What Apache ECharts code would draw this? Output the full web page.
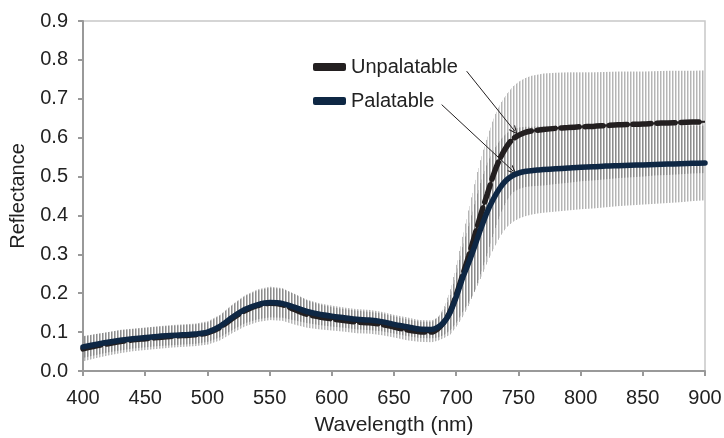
<!DOCTYPE html>
<html>
<head>
<meta charset="utf-8">
<script src="https://cdn.jsdelivr.net/npm/echarts@6/dist/echarts.min.js"></script>
<style>
html,body{margin:0;padding:0;background:#fff;}
#chart{width:724px;height:438px;}
</style>
</head>
<body>
<div id="chart"></div>
<script>
const wavelengths = [400,410,420,430,440,450,460,470,480,490,
  500,510,520,530,540,550,560,570,580,590,
  600,610,620,630,640,650,660,670,680,685,
  690,695,700,705,710,715,720,725,730,735,
  740,745,750,755,760,765,770,780,790,800,
  810,820,830,840,850,860,870,880,890,900];

const palatable = [0.062,0.068,0.074,0.079,0.083,0.086,0.089,0.091,0.093,0.095,
  0.100,0.115,0.138,0.158,0.170,0.176,0.174,0.164,0.153,0.146,
  0.141,0.137,0.133,0.131,0.127,0.120,0.114,0.108,0.107,0.112,
  0.125,0.150,0.190,0.238,0.278,0.322,0.368,0.410,0.443,0.470,
  0.490,0.502,0.509,0.513,0.515,0.517,0.518,0.520,0.522,0.524,
  0.525,0.527,0.528,0.529,0.530,0.531,0.532,0.533,0.534,0.535];

const unpalatable = [0.057,0.064,0.070,0.076,0.080,0.083,0.086,0.089,0.091,0.093,
  0.098,0.112,0.135,0.155,0.168,0.174,0.171,0.158,0.146,0.139,
  0.134,0.130,0.126,0.124,0.120,0.113,0.106,0.101,0.100,0.108,
  0.125,0.152,0.195,0.245,0.295,0.350,0.405,0.455,0.505,0.545,
  0.574,0.595,0.606,0.613,0.617,0.619,0.621,0.624,0.626,0.628,
  0.629,0.631,0.633,0.634,0.635,0.637,0.638,0.639,0.640,0.641];

const errPalatable = [0.028,0.027,0.026,0.026,0.025,0.025,0.025,0.025,0.025,0.025,
  0.025,0.028,0.032,0.035,0.037,0.038,0.037,0.034,0.030,0.028,
  0.027,0.026,0.026,0.026,0.025,0.024,0.024,0.023,0.023,0.026,
  0.032,0.045,0.065,0.085,0.100,0.115,0.125,0.128,0.127,0.124,
  0.121,0.119,0.117,0.115,0.113,0.112,0.111,0.110,0.109,0.108,
  0.107,0.106,0.104,0.103,0.102,0.101,0.100,0.099,0.097,0.096];

const errUnpalatable = [0.032,0.031,0.030,0.030,0.029,0.029,0.029,0.029,0.029,0.029,
  0.030,0.033,0.037,0.040,0.042,0.043,0.042,0.039,0.035,0.032,
  0.030,0.029,0.029,0.028,0.028,0.027,0.027,0.026,0.026,0.030,
  0.040,0.058,0.080,0.105,0.125,0.140,0.148,0.150,0.148,0.142,
  0.137,0.136,0.138,0.140,0.142,0.143,0.144,0.143,0.142,0.140,
  0.139,0.138,0.137,0.136,0.135,0.134,0.134,0.133,0.132,0.132];

const seriesNames = ['Unpalatable', 'Palatable'];
const xAxisName = 'Wavelength (nm)';
const yAxisName = 'Reflectance';

// arrow annotations (data space): [start, end]
const arrowUnpalatable = [[708.4, 0.771], [747, 0.617]];
const arrowPalatable = [[688.3, 0.685], [745.8, 0.514]];

const FONT = '"Liberation Sans", Arial, sans-serif';
const C_UNPAL = '#231f20';
const C_PAL = '#0e2744';

function pairs(vals) { return wavelengths.map((w, i) => [w, vals[i]]); }
function bandData(vals, errs) {
  return wavelengths.map((w, i) => [w, +(vals[i] - errs[i]).toFixed(4), +(vals[i] + errs[i]).toFixed(4)]);
}

// error bars drawn as dense vertical strokes between the band edges
function makeBandRenderer(data) {
  return function (params, api) {
    const i = params.dataIndex;
    if (i >= data.length - 1) return null;
    const a0 = api.coord([data[i][0], data[i][1]]);
    const b0 = api.coord([data[i][0], data[i][2]]);
    const a1 = api.coord([data[i + 1][0], data[i + 1][1]]);
    const b1 = api.coord([data[i + 1][0], data[i + 1][2]]);
    const x0 = a0[0], x1 = a1[0];
    const last = (i === data.length - 2);
    const children = [];
    for (let x = Math.ceil(x0); last ? x <= Math.floor(x1) : x < x1; x++) {
      const m = ((x % 3) + 3) % 3;
      if (m === 2) continue;
      const t = (x - x0) / (x1 - x0);
      const ylo = a0[1] + (a1[1] - a0[1]) * t;
      const yhi = b0[1] + (b1[1] - b0[1]) * t;
      children.push({
        type: 'line',
        shape: {x1: x + 0.5, y1: ylo, x2: x + 0.5, y2: yhi},
        style: {stroke: m === 0 ? 'rgba(90,90,90,0.45)' : 'rgba(90,90,90,0.22)', lineWidth: 1}
      });
    }
    return {type: 'group', children: children};
  };
}

const bandU = bandData(unpalatable, errUnpalatable);
const bandP = bandData(palatable, errPalatable);

const chart = echarts.init(document.getElementById('chart'), null, {renderer: 'canvas'});

const option = {
  animation: false,
  backgroundColor: '#fff',
  grid: {left: 83, right: 19, top: 21, bottom: 67, show: true, borderColor: '#c8c8c8', borderWidth: 1.5,
         containLabel: false, outerBoundsMode: 'none'},
  legend: {
    orient: 'vertical', left: 308, top: 51, itemWidth: 33, itemHeight: 8, itemGap: 12,
    textStyle: {fontFamily: FONT, fontSize: 20, color: '#222', lineHeight: 22},
    data: [
      {name: seriesNames[0], icon: 'roundRect', itemStyle: {color: C_UNPAL}},
      {name: seriesNames[1], icon: 'roundRect', itemStyle: {color: C_PAL}}
    ],
    selectedMode: false
  },
  xAxis: {
    type: 'value', min: 400, max: 900, interval: 50,
    name: xAxisName, nameLocation: 'middle', nameGap: 44,
    nameTextStyle: {fontFamily: FONT, fontSize: 21, color: '#222'},
    axisLine: {show: true, lineStyle: {color: '#999', width: 2}},
    axisTick: {show: true, length: 5, lineStyle: {color: '#999', width: 2}},
    axisLabel: {fontFamily: FONT, fontSize: 20, color: '#222', margin: 17},
    splitLine: {show: false}
  },
  yAxis: {
    type: 'value', min: 0, max: 0.9, interval: 0.1,
    name: yAxisName, nameLocation: 'middle', nameGap: 55,
    nameTextStyle: {fontFamily: FONT, fontSize: 20, color: '#222'},
    axisLine: {show: true, lineStyle: {color: '#999', width: 2}},
    axisTick: {show: true, length: 5, lineStyle: {color: '#999', width: 2}},
    axisLabel: {fontFamily: FONT, fontSize: 20, color: '#222', margin: 15,
      formatter: v => v.toFixed(1)},
    splitLine: {show: false}
  },
  series: [
    {name: 'UnpalatableError', type: 'custom', data: bandU, encode: {x: 0, y: [1, 2]},
     renderItem: makeBandRenderer(bandU), silent: true, z: 1, clip: true},
    {name: 'PalatableError', type: 'custom', data: bandP, encode: {x: 0, y: [1, 2]},
     renderItem: makeBandRenderer(bandP), silent: true, z: 1, clip: true},
    {name: 'UnpalatableBase', type: 'line', data: pairs(unpalatable), smooth: 0.3, symbol: 'none',
     lineStyle: {color: C_UNPAL, width: 2}, itemStyle: {color: C_UNPAL}, z: 3},
    {name: seriesNames[0], type: 'line', data: pairs(unpalatable), smooth: 0.3, symbol: 'none',
     lineStyle: {color: C_UNPAL, width: 5.5, type: [18, 6], cap: 'round'}, itemStyle: {color: C_UNPAL}, z: 4},
    {name: seriesNames[1], type: 'line', data: pairs(palatable), smooth: 0.3, symbol: 'none',
     lineStyle: {color: C_PAL, width: 5.5, cap: 'round'}, itemStyle: {color: C_PAL}, z: 5,
     markLine: {
       silent: true, animation: false,
       symbol: ['none', 'path://M5,0 L10,10 L8.6,10 L5,2.8 L1.4,10 L0,10 Z'],
       symbolSize: [8, 9],
       label: {show: false},
       lineStyle: {color: '#231f20', width: 1, type: 'solid'},
       data: [
         [{coord: arrowUnpalatable[0]}, {coord: arrowUnpalatable[1]}],
         [{coord: arrowPalatable[0]}, {coord: arrowPalatable[1]}]
       ]
     }}
  ]
};
chart.setOption(option);
</script>
</body>
</html>
